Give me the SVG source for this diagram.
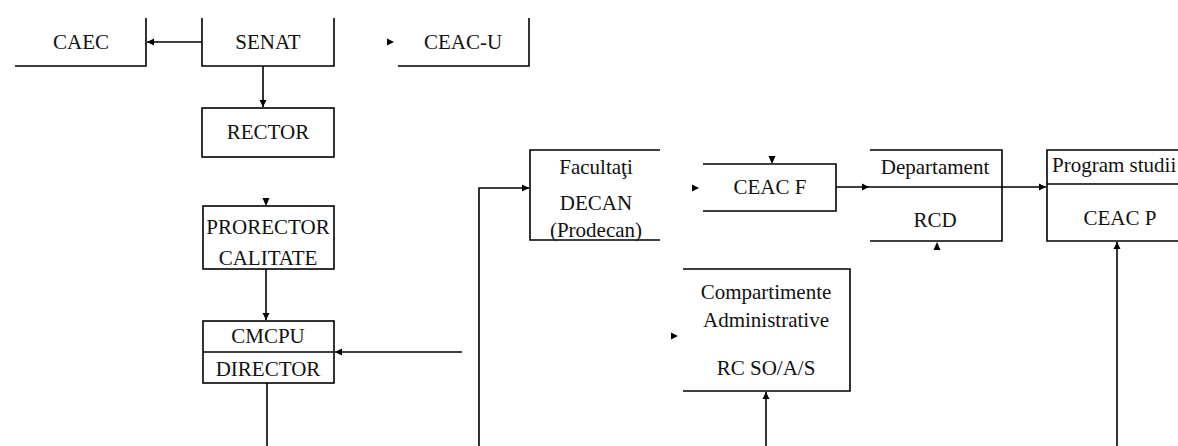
<svg xmlns="http://www.w3.org/2000/svg" width="1178" height="446" viewBox="0 0 1178 446">
<defs>
<style>
.ln{fill:none;stroke:#000;stroke-width:1.6}
text{font-family:'Liberation Serif','DejaVu Serif',serif;font-size:21px;fill:#111}
.t{text-anchor:middle}
.ah{fill:#000}
</style>
<marker id="arr" markerWidth="8" markerHeight="8" refX="7" refY="4" orient="auto" markerUnits="userSpaceOnUse">
<path d="M0,0.5 L7,4 L0,7.5 Z" fill="#000"/>
</marker>
</defs>
<rect width="1178" height="446" fill="#fff"/>

<g id="caec">
<path class="ln" d="M15,66 H146 V18"/>
<text class="t" x="81" y="49" font-family="Liberation Serif, serif">CAEC</text>
</g>
<g id="senat">
<path class="ln" d="M202,18 V66 H334 V18"/>
<text class="t" x="268" y="49">SENAT</text>
</g>
<g id="ceac-u">
<path class="ln" d="M398,66 H529 V18"/>
<text class="t" x="463" y="49">CEAC-U</text>
</g>
<g id="rector">
<rect class="ln" x="202" y="108" width="132" height="49"/>
<text class="t" x="268" y="139">RECTOR</text>
</g>
<g id="prorector">
<rect class="ln" x="203" y="206" width="131" height="63"/>
<text class="t" x="268" y="234">PRORECTOR</text>
<text class="t" x="268" y="265">CALITATE</text>
</g>
<g id="cmcpu">
<rect class="ln" x="203" y="321" width="131" height="62"/>
<path class="ln" d="M203,352 H334"/>
<text class="t" x="268" y="343">CMCPU</text>
<text class="t" x="268" y="376">DIRECTOR</text>
</g>
<g id="facultati">
<path class="ln" d="M660,150 H530 V240 H660"/>
<text class="t" x="596" y="174">Facultaţi</text>
<text class="t" x="596" y="210">DECAN</text>
<text class="t" x="596" y="237">(Prodecan)</text>
</g>
<g id="ceac-f">
<path class="ln" d="M703,164 H836 V211 H703"/>
<text class="t" x="770" y="194">CEAC F</text>
</g>
<g id="departament">
<path class="ln" d="M870,150 H1002 V241 H870"/>
<text class="t" x="935" y="174">Departament</text>
<text class="t" x="935" y="227">RCD</text>
</g>
<g id="program-studii">
<path class="ln" d="M1178,150 H1047 V241 H1178"/>
<path class="ln" d="M1047,184 H1178"/>
<text x="1052" y="172">Program studii</text>
<text class="t" x="1120" y="225">CEAC P</text>
</g>
<g id="compartimente">
<path class="ln" d="M683,269 H850 V391 H683"/>
<text class="t" x="766" y="299">Compartimente</text>
<text class="t" x="766" y="327">Administrative</text>
<text class="t" x="766" y="375">RC SO/A/S</text>
</g>

<g id="connectors">
<path class="ln" d="M202,42 H147" marker-end="url(#arr)"/>
<path class="ln" d="M263,66 V107" marker-end="url(#arr)"/>
<path class="ln" d="M266,269 V320" marker-end="url(#arr)"/>
<path class="ln" d="M462,352 H335" marker-end="url(#arr)"/>
<path class="ln" d="M267,383 V446"/>
<path class="ln" d="M479,446 V188 H529" marker-end="url(#arr)"/>
<path class="ln" d="M836,187 H869" marker-end="url(#arr)"/>
<path class="ln" d="M869,187 H1046" marker-end="url(#arr)"/>
<path class="ln" d="M766,446 V392" marker-end="url(#arr)"/>
<path class="ln" d="M1117,446 V242" marker-end="url(#arr)"/>
<polygon class="ah" points="387,38.5 394,42 387,45.5"/>
<polygon class="ah" points="262.5,198 269.5,198 266,206"/>
<polygon class="ah" points="692,184.5 699,188 692,191.5"/>
<polygon class="ah" points="768.5,156 775.5,156 772,164"/>
<polygon class="ah" points="933.5,250 940.5,250 937,242"/>
<polygon class="ah" points="671,332.5 678,336 671,339.5"/>
</g>
</svg>
